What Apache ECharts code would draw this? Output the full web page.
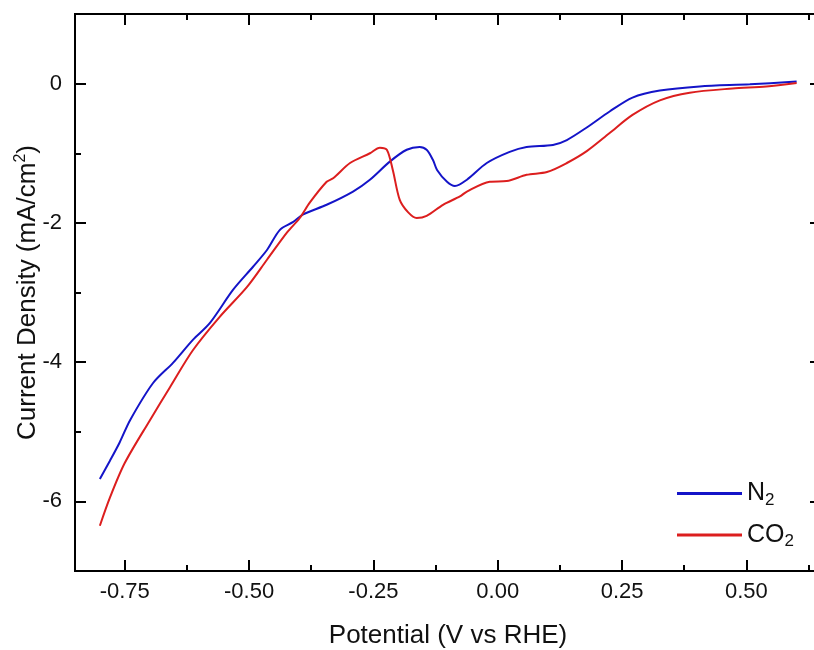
<!DOCTYPE html>
<html>
<head>
<meta charset="utf-8">
<script src="https://cdn.jsdelivr.net/npm/echarts@6/dist/echarts.min.js"></script>
<style>
  html, body { margin: 0; padding: 0; background: #fff; }
  #chart { width: 814px; height: 650px; }
</style>
</head>
<body>
<div id="chart"></div>
<script>
// values
var n2X = [-0.80, -0.78, -0.76, -0.739, -0.693, -0.653, -0.613, -0.579, -0.532, -0.492, -0.464, -0.438, -0.412, -0.392, -0.344, -0.291, -0.257, -0.217, -0.183, -0.157, -0.143, -0.130, -0.122, -0.102, -0.086, -0.062, -0.022, 0.024, 0.058, 0.111, 0.139, 0.179, 0.225, 0.271, 0.326, 0.406, 0.507, 0.601];
var n2Y = [-5.68, -5.42, -5.15, -4.83, -4.30, -4.01, -3.68, -3.44, -2.96, -2.63, -2.39, -2.10, -1.99, -1.88, -1.74, -1.55, -1.38, -1.12, -0.95, -0.91, -0.95, -1.10, -1.24, -1.41, -1.47, -1.38, -1.14, -0.98, -0.91, -0.88, -0.81, -0.63, -0.40, -0.20, -0.10, -0.04, -0.01, 0.03];

var co2X = [-0.80, -0.78, -0.75, -0.699, -0.659, -0.613, -0.559, -0.504, -0.464, -0.424, -0.398, -0.378, -0.344, -0.331, -0.297, -0.257, -0.237, -0.223, -0.211, -0.197, -0.180, -0.163, -0.143, -0.110, -0.076, -0.062, -0.016, 0.018, 0.058, 0.099, 0.139, 0.179, 0.225, 0.271, 0.326, 0.386, 0.472, 0.540, 0.601];
var co2Y = [-6.35, -5.95, -5.45, -4.83, -4.36, -3.83, -3.35, -2.92, -2.53, -2.14, -1.93, -1.71, -1.41, -1.36, -1.14, -1.00, -0.92, -0.95, -1.24, -1.67, -1.85, -1.93, -1.90, -1.74, -1.62, -1.55, -1.41, -1.40, -1.31, -1.27, -1.14, -0.97, -0.71, -0.45, -0.24, -0.13, -0.07, -0.04, 0.01];

var xMajor = [-0.75, -0.5, -0.25, 0, 0.25, 0.5];
var xMinor = [-0.625, -0.375, -0.125, 0.125, 0.375, 0.625];
var yMajor = [-6, -4, -2, 0];
var yMinor = [-7, -5, -3, -1, 1];

function zip(xs, ys) {
    var out = [];
    for (var i = 0; i < xs.length; i++) out.push([xs[i], ys[i]]);
    return out;
}

var chart = echarts.init(document.getElementById('chart'));

var lineStyle = { color: '#000', width: 2 };
var font = 'Liberation Sans, Arial, sans-serif';

function xAx(pos, vals, len, labels) {
    return {
        type: 'value', position: pos, min: -0.85, max: 0.65,
        axisLine: { show: true, onZero: false, lineStyle: lineStyle },
        axisTick: { show: true, inside: true, length: len, customValues: vals, lineStyle: lineStyle },
        axisLabel: labels ? {
            show: true, customValues: vals, margin: 10, color: '#111', fontSize: 22, fontFamily: font,
            formatter: function (v) { return v.toFixed(2); }
        } : { show: false },
        splitLine: { show: false }
    };
}
function yAx(pos, vals, len, labels) {
    return {
        type: 'value', position: pos, min: -7, max: 1,
        axisLine: { show: true, onZero: false, lineStyle: lineStyle },
        axisTick: { show: true, inside: true, length: len, customValues: vals, lineStyle: lineStyle },
        axisLabel: labels ? {
            show: true, customValues: vals, margin: 13, color: '#111', fontSize: 22, fontFamily: font
        } : { show: false },
        splitLine: { show: false }
    };
}

var xMain = xAx('bottom', xMajor, 11, true);
xMain.name = 'Potential (V vs RHE)';
xMain.nameLocation = 'middle';
xMain.nameGap = 52;
xMain.nameTextStyle = { fontSize: 26, color: '#111', fontFamily: font };

var yMain = yAx('left', yMajor, 11, true);
yMain.name = '{a|Current Density (mA/cm}{s|2}{a|)}';
yMain.nameLocation = 'middle';
yMain.nameGap = 32;
yMain.nameMoveOverlap = false;
yMain.nameTextStyle = {
    color: '#111', fontFamily: font,
    rich: {
        a: { fontSize: 26, lineHeight: 30, color: '#111', fontFamily: font },
        s: { fontSize: 16, lineHeight: 14, verticalAlign: 'top', color: '#111', fontFamily: font }
    }
};

var legendRich = {
    a: { fontSize: 25, lineHeight: 30, color: '#111', fontFamily: font },
    b: { fontSize: 17, lineHeight: 14, verticalAlign: 'bottom', color: '#111', fontFamily: font }
};

var option = {
    animation: false,
    grid: { left: 75, right: -7, top: 14, bottom: 79, outerBoundsMode: 'none', containLabel: false },
    legend: {
        orient: 'vertical',
        left: 672,
        top: 476,
        itemWidth: 65,
        itemHeight: 3,
        itemGap: 14,
        icon: 'rect',
        data: ['N2', 'CO2'],
        formatter: function (name) {
            return '{a|' + name.slice(0, -1) + '}{b|2}';
        },
        textStyle: { rich: legendRich }
    },
    xAxis: [
        xMain,
        xAx('bottom', xMinor, 6, false),
        xAx('top', xMajor, 11, false),
        xAx('top', xMinor, 6, false)
    ],
    yAxis: [
        yMain,
        yAx('left', yMinor, 6, false),
        yAx('right', yMajor, 11, false),
        yAx('right', yMinor, 6, false)
    ],
    series: [{
        name: 'N2',
        type: 'line',
        data: zip(n2X, n2Y),
        showSymbol: false,
        smooth: 0.3,
        itemStyle: { color: '#1414c8' },
        lineStyle: { color: '#1414c8', width: 2 }
    }, {
        name: 'CO2',
        type: 'line',
        data: zip(co2X, co2Y),
        showSymbol: false,
        smooth: 0.3,
        itemStyle: { color: '#dc1e1e' },
        lineStyle: { color: '#dc1e1e', width: 2 }
    }]
};
chart.setOption(option);
</script>
</body>
</html>
